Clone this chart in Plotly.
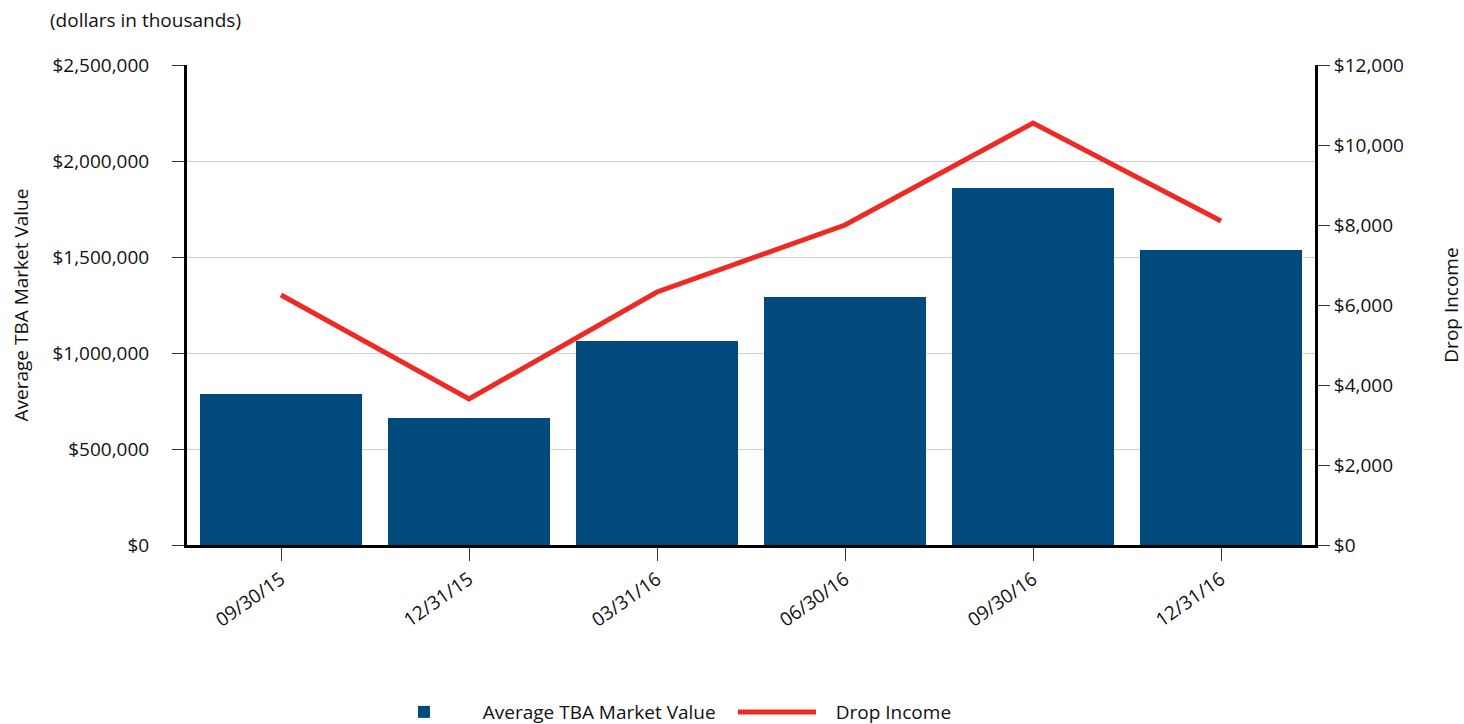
import plotly.graph_objects as go

categories = ["09/30/15", "12/31/15", "03/31/16", "06/30/16", "09/30/16", "12/31/16"]
tba_market_value = [786000, 661000, 1062000, 1292000, 1859000, 1536000]
drop_income = [6250, 3650, 6325, 8000, 10550, 8100]

left_ticks = [0, 500000, 1000000, 1500000, 2000000, 2500000]
left_labels = ["$0", "$500,000", "$1,000,000", "$1,500,000", "$2,000,000", "$2,500,000"]
right_ticks = [0, 2000, 4000, 6000, 8000, 10000, 12000]
right_labels = ["$0", "$2,000", "$4,000", "$6,000", "$8,000", "$10,000", "$12,000"]

FONT = "Open Sans"
FS = 19
BLUE = "#02497e"
RED = "#ee2a24"
PAD = "\u00a0\u00a0\u00a0"

fig = go.Figure()
fig.add_trace(go.Bar(
    x=categories, y=tba_market_value, name=PAD + "Average TBA Market Value",
    marker=dict(color=BLUE, line=dict(width=0)), yaxis="y",
))
fig.add_trace(go.Scatter(
    x=categories, y=drop_income, name=PAD + "Drop Income", mode="lines",
    line=dict(color=RED, width=5), yaxis="y2",
))

fig.update_layout(
    width=1464, height=724,
    margin=dict(l=187, r=149, t=65, b=179, autoexpand=False),
    paper_bgcolor="white", plot_bgcolor="white",
    font=dict(family=FONT, size=FS, color="#111111"),
    bargap=0.138,
    showlegend=True,
    legend=dict(orientation="h", x=0.484, xanchor="center", y=-0.348, yanchor="middle",
                font=dict(size=FS), traceorder="normal", itemwidth=78,
                entrywidth=260, entrywidthmode="pixels"),
    xaxis=dict(
        type="category", showgrid=False, showline=True, linecolor="black", linewidth=3,
        ticks="outside", ticklen=13, tickcolor="#333333", tickwidth=1,
        tickangle=-35, tickfont=dict(size=FS), automargin=False,
    ),
    yaxis=dict(
        range=[0, 2500000], tickvals=left_ticks, ticktext=left_labels,
        showgrid=True, gridcolor="#d0d0d0", gridwidth=1,
        showline=True, linecolor="black", linewidth=3,
        ticks="outside", ticklen=12, tickcolor="#333333",
        ticklabelstandoff=19,
        title=dict(text="Average TBA Market Value", font=dict(size=FS), standoff=19),
        zeroline=False, automargin=False,
    ),
    yaxis2=dict(
        range=[0, 12000], tickvals=right_ticks, ticktext=right_labels,
        overlaying="y", side="right", showgrid=False,
        showline=True, linecolor="black", linewidth=3,
        ticks="outside", ticklen=12, tickcolor="#333333",
        title=dict(text="Drop Income", font=dict(size=FS), standoff=47),
        zeroline=False, automargin=False,
    ),
    annotations=[dict(
        text="(dollars in thousands)", xref="paper", yref="paper",
        x=-0.1232, y=1.0, yshift=45, xanchor="left", yanchor="middle",
        showarrow=False, font=dict(size=FS),
    )],
)

fig.write_html("out.html", config={"displayModeBar": False},
               post_script="document.body.style.margin='0';")
